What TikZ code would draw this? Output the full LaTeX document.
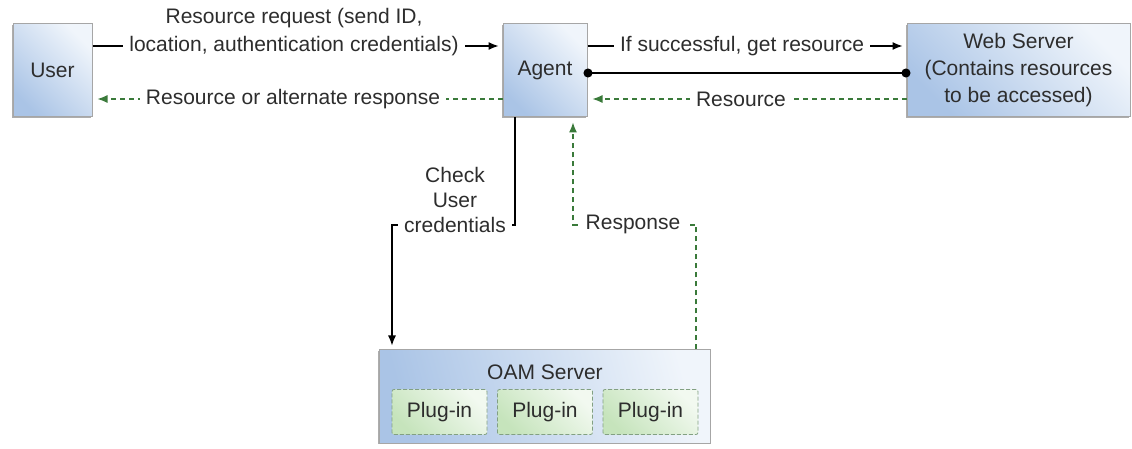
\documentclass[tikz,border=0pt]{standalone}
\usepackage{fontspec}
\setmainfont{Liberation Sans}
\usetikzlibrary{arrows.meta,shadows}
\definecolor{boxdark}{RGB}{170,196,230}
\definecolor{boxlight}{RGB}{240,245,251}
\definecolor{plugdark}{RGB}{198,228,188}
\definecolor{pluglight}{RGB}{242,249,240}
\definecolor{plugline}{RGB}{130,160,130}
\definecolor{respgreen}{RGB}{58,122,58}
\definecolor{txt}{RGB}{45,45,45}

\tikzset{
  box/.style={draw=gray!70, line width=0.5pt, top color=boxlight, bottom color=boxdark,
    shading angle=-45, minimum height=46.5pt, inner sep=0pt, align=center, text=txt,
    drop shadow={shadow xshift=-0.7pt,shadow yshift=-0.7pt,fill=gray!80,opacity=0.8}},
  plug/.style={draw=plugline, dash pattern=on 2pt off 1pt, top color=pluglight,
    bottom color=plugdark, shading angle=-45, minimum width=47.5pt,
    minimum height=22.5pt, inner sep=0pt, rounded corners=1pt, text=txt},
  lbl/.style={fill=white, inner xsep=3pt, inner ysep=1.5pt, align=center, text=txt},
  req/.style={line width=0.6pt, shorten >=2pt, -{Latex[length=5pt,width=4pt]}},
  resp/.style={respgreen, line width=0.6pt, dash pattern=on 2.5pt off 2pt,
    shorten >=2.5pt, -{Latex[length=5pt,width=4pt]}},
}

\begin{document}
\begin{tikzpicture}[x=0.5pt, y=-0.5pt, every node/.style={font=\fontsize{10.5}{13.5}\selectfont}]
		\useasboundingbox (0,0) rectangle (1132,449);

		\node[box, minimum width=39.5pt] (user) at (52.5,70.5) {User};
		\node[box, minimum width=42pt] (agent) at (545,70.5) {Agent};
		\node[box, minimum width=111.5pt] (web) at (1018.5,70.5) {Web Server\\(Contains resources\\to be accessed)};
		\node[box, minimum width=165.5pt, shading angle=-75] (oam) at (544.5,396.5) {};
		\node[text=txt] (oamtxt) at (545,372) {OAM Server};
		\foreach \i/\x in {1/439.5,2/545,3/650.5}
			\node[plug] (plug\i) at (\x,412) {Plug-in};

		\coordinate (row1) at (0,46);  % request row
		\coordinate (row2) at (0,73);  % link row
		\coordinate (row3) at (0,99);  % response row
		\coordinate (chkA) at (515,225);
		\coordinate (chkB) at (392,225);
		\coordinate (rspA) at (696,225);
		\coordinate (rspB) at (573,225);

		\draw[req] (user.east |- row1) -- (agent.west |- row1);
		\draw[req] (agent.east |- row1) -- (web.west |- row1);
		\draw[line width=0.6pt, shorten <=-2pt, shorten >=-2pt, {Circle[length=4.5pt]}-{Circle[length=4.5pt]}] (agent.east |- row2) -- (web.west |- row2);
		\draw[resp] (agent.west |- row3) -- (user.east |- row3);
		\draw[resp] (web.west |- row3) -- (agent.east |- row3);

		\draw[req] (agent.south -| chkA) -- (chkA) -- (chkB) -- (oam.north -| chkB);
		\draw[resp] (oam.north -| rspA) -- (rspA) -- (rspB) -- (agent.south -| rspB);

		\node[lbl, font=\fontsize{10.5}{14}\selectfont] (reqtxt) at (294,32) {Resource request (send ID,\\location, authentication credentials)};
		\node[lbl] (gettxt) at (742,46) {If successful, get resource};
		\node[lbl] (restxt) at (741,99) {Resource};
		\node[lbl] (alttxt) at (293,99) {Resource or alternate response};
		\node[lbl, font=\fontsize{10.5}{12.5}\selectfont] (chktxt) at (455,200) {Check\\User\\credentials};
		\node[lbl] (rsptxt) at (633,224) {Response};
\end{tikzpicture}
\end{document}
